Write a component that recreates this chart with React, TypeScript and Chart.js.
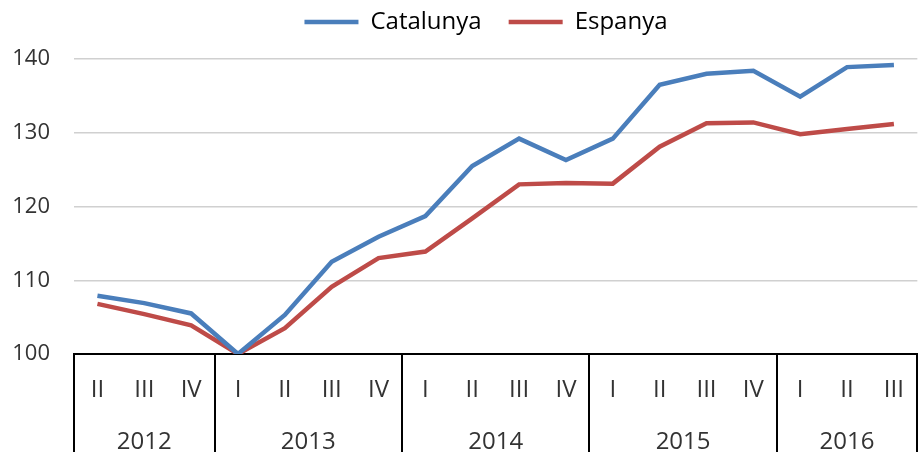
import React, { useEffect, useRef } from "react";
import { Chart, registerables } from "chart.js";

Chart.register(...registerables);

const quarters = ["II", "III", "IV", "I", "II", "III", "IV", "I", "II", "III", "IV", "I", "II", "III", "IV", "I", "II", "III"];
const years = ["2012", "2013", "2014", "2015", "2016"];
const yearCounts = [3, 4, 4, 4, 3];
const catalunya = [107.9, 106.9, 105.5, 100, 105.3, 112.5, 115.9, 118.7, 125.5, 129.2, 126.3, 129.2, 136.5, 138.0, 138.4, 134.9, 138.9, 139.2];
const espanya = [106.8, 105.4, 103.9, 100, 103.5, 109.1, 113.0, 113.9, 118.4, 123.0, 123.2, 123.1, 128.1, 131.3, 131.4, 129.8, 130.5, 131.2];
const yTicks = [100, 110, 120, 130, 140];

const FONT = "'Open Sans', 'Liberation Sans', sans-serif";
const TEXT = "#333333";

const yearAxisPlugin = {
  id: "yearAxis",
  beforeLayout(chart: any) {
    const lg = chart.legend;
    if (lg && !lg._patchedFit) {
      lg._patchedFit = true;
      const orig = lg.fit.bind(lg);
      lg.fit = function () {
        orig();
        this.height = 76;
      };
    }
  },
  afterLayout(chart: any) {
    if (chart.legend) chart.legend.left = 47;
  },
  afterDraw(chart: any) {
    const { ctx, chartArea, scales } = chart;
    const x = scales.x;
    const half = (x.getPixelForValue(1) - x.getPixelForValue(0)) / 2;
    const bottom = chart.height;
    ctx.save();
    ctx.strokeStyle = "#000000";
    ctx.lineWidth = 2;
    let idx = 0;
    const bounds: number[] = [x.getPixelForValue(0) - half];
    yearCounts.forEach((c) => {
      idx += c;
      bounds.push(x.getPixelForValue(idx - 1) + half);
    });
    bounds.forEach((bx) => {
      ctx.beginPath();
      ctx.moveTo(Math.round(bx), chartArea.bottom);
      ctx.lineTo(Math.round(bx), bottom);
      ctx.stroke();
    });
    ctx.fillStyle = TEXT;
    ctx.font = `24px ${FONT}`;
    ctx.textAlign = "center";
    ctx.textBaseline = "middle";
    years.forEach((yr, i) => {
      ctx.fillText(yr, (bounds[i] + bounds[i + 1]) / 2, 442);
    });
    ctx.restore();
  },
};

export default function App() {
  const ref = useRef<HTMLCanvasElement>(null);
  useEffect(() => {
    document.body.style.margin = "0";
    document.body.style.overflow = "hidden";
    const chart = new Chart(ref.current as HTMLCanvasElement, {
      type: "line",
      data: {
        labels: quarters,
        datasets: [
          { label: "Catalunya", data: catalunya, borderColor: "#4A7EBB", backgroundColor: "#4A7EBB", borderWidth: 4.5, pointRadius: 0, tension: 0 },
          { label: "Espanya", data: espanya, borderColor: "#BE4B48", backgroundColor: "#BE4B48", borderWidth: 4.5, pointRadius: 0, tension: 0 },
        ],
      },
      options: {
        responsive: false,
        animation: false,
        devicePixelRatio: 1,
        layout: { padding: { top: -17, right: 1, left: 0, bottom: 0 } },
        plugins: {
          legend: {
            position: "top",
            labels: {
              usePointStyle: true,
              pointStyle: "line",
              pointStyleWidth: 54,
              boxHeight: 4,
              padding: 27,
              color: "#000000",
              font: { family: FONT, size: 24 },
            },
          },
          tooltip: { enabled: false },
        },
        scales: {
          x: {
            offset: true,
            grid: { display: false, drawTicks: false },
            border: { display: true, color: "#000000", width: 2 },
            ticks: { color: TEXT, font: { family: FONT, size: 24 }, padding: 22, maxRotation: 0, autoSkip: false },
            afterFit(scale: any) { scale.height = 98; },
          },
          y: {
            min: 100,
            max: 140,
            afterBuildTicks(scale: any) { scale.ticks = yTicks.map((v) => ({ value: v })); },
            grid: { color: (c: any) => (c.tick && c.tick.value === 100 ? "rgba(0,0,0,0)" : "#D0D0D0"), lineWidth: 1.5, drawTicks: false },
            border: { display: false },
            ticks: { color: TEXT, font: { family: FONT, size: 22 }, padding: 24 },
            afterFit(scale: any) { scale.width = 74; },
          },
        },
      },
      plugins: [yearAxisPlugin],
    });
    return () => chart.destroy();
  }, []);
  return (
    <div style={{ position: "fixed", left: 0, top: 0, width: 920, height: 452, overflow: "hidden", background: "#fff" }}>
      <canvas ref={ref} width={926} height={452} style={{ width: 926, height: 452 }} />
    </div>
  );
}
